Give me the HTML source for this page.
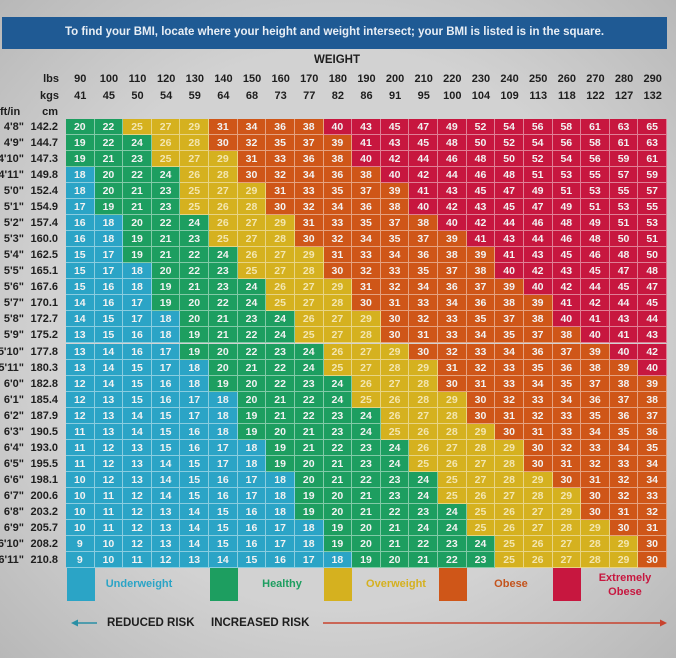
<!DOCTYPE html>
<html><head><meta charset="utf-8"><style>
body{margin:0;width:676px;height:658px;overflow:hidden;background:#c8c8c8;font-family:"Liberation Sans",sans-serif;position:relative}
.bg{position:absolute;left:0;top:0;width:676px;height:658px;background:radial-gradient(ellipse at center,#d2d2d2 60%,#b8b8b8 100%)}
.t{position:absolute;font-weight:bold;color:#1e1e1e;font-size:11px;line-height:14px;white-space:nowrap}
.cell{position:absolute;font-size:10.5px;font-weight:bold;text-align:center;color:#f2f2f2;box-sizing:border-box;border-right:1px solid rgba(255,255,255,.45);border-bottom:1px solid rgba(255,255,255,.45)}
.sw{position:absolute;top:568px;width:28px;height:33px}
.lg{position:absolute;font-size:11px;font-weight:bold;text-align:center;line-height:14px}
</style></head><body>
<div class="bg"></div>
<div style="position:absolute;left:2px;top:17px;width:665px;height:32px;background:#1f5a94;color:#e8eef5;font-size:11.5px;font-weight:bold;text-align:center;line-height:31px">To find your BMI, locate where your height and weight intersect; your BMI is listed is in the square.</div>
<div class="t" style="left:314px;top:53px;font-size:11.5px">WEIGHT</div>
<div class="t" style="left:30px;top:72px;width:29px;text-align:right">lbs</div>
<div class="t" style="left:30px;top:89px;width:29px;text-align:right">kgs</div>
<div class="t" style="left:0px;top:105px">ft/in</div>
<div class="t" style="left:30px;top:105px;width:28px;text-align:right">cm</div>
<div id="chart"></div>
<div id="legend"></div>
<svg style="position:absolute;left:0;top:610px" width="676" height="30">
<line x1="74" y1="13" x2="97" y2="13" stroke="#2a8fa5" stroke-width="1.5"/><polygon points="71,13 78,9.5 78,16.5" fill="#2a8fa5"/>
<line x1="323" y1="13" x2="662" y2="13" stroke="#c8432e" stroke-width="1.5"/><polygon points="667,13 660,9.5 660,16.5" fill="#c8432e"/>
</svg>
<div class="t" style="left:107px;top:616px;font-size:11.5px">REDUCED RISK</div>
<div class="t" style="left:211px;top:616px;font-size:11.5px">INCREASED RISK</div>
<script>
const lbs=[90,100,110,120,130,140,150,160,170,180,190,200,210,220,230,240,250,260,270,280,290];
const kgs=[41,45,50,54,59,64,68,73,77,82,86,91,95,100,104,109,113,118,122,127,132];
const ftin=["4'8\"","4'9\"","4'10\"","4'11\"","5'0\"","5'1\"","5'2\"","5'3\"","5'4\"","5'5\"","5'6\"","5'7\"","5'8\"","5'9\"","5'10\"","5'11\"","6'0\"","6'1\"","6'2\"","6'3\"","6'4\"","6'5\"","6'6\"","6'7\"","6'8\"","6'9\"","6'10\"","6'11\""];
const cm=["142.2","144.7","147.3","149.8","152.4","154.9","157.4","160.0","162.5","165.1","167.6","170.1","172.7","175.2","177.8","180.3","182.8","185.4","187.9","190.5","193.0","195.5","198.1","200.6","203.2","205.7","208.2","210.8"];
const bmi=[
[20,22,25,27,29,31,34,36,38,40,43,45,47,49,52,54,56,58,61,63,65],
[19,22,24,26,28,30,32,35,37,39,41,43,45,48,50,52,54,56,58,61,63],
[19,21,23,25,27,29,31,33,36,38,40,42,44,46,48,50,52,54,56,59,61],
[18,20,22,24,26,28,30,32,34,36,38,40,42,44,46,48,51,53,55,57,59],
[18,20,21,23,25,27,29,31,33,35,37,39,41,43,45,47,49,51,53,55,57],
[17,19,21,23,25,26,28,30,32,34,36,38,40,42,43,45,47,49,51,53,55],
[16,18,20,22,24,26,27,29,31,33,35,37,38,40,42,44,46,48,49,51,53],
[16,18,19,21,23,25,27,28,30,32,34,35,37,39,41,43,44,46,48,50,51],
[15,17,19,21,22,24,26,27,29,31,33,34,36,38,39,41,43,45,46,48,50],
[15,17,18,20,22,23,25,27,28,30,32,33,35,37,38,40,42,43,45,47,48],
[15,16,18,19,21,23,24,26,27,29,31,32,34,36,37,39,40,42,44,45,47],
[14,16,17,19,20,22,24,25,27,28,30,31,33,34,36,38,39,41,42,44,45],
[14,15,17,18,20,21,23,24,26,27,29,30,32,33,35,37,38,40,41,43,44],
[13,15,16,18,19,21,22,24,25,27,28,30,31,33,34,35,37,38,40,41,43],
[13,14,16,17,19,20,22,23,24,26,27,29,30,32,33,34,36,37,39,40,42],
[13,14,15,17,18,20,21,22,24,25,27,28,29,31,32,33,35,36,38,39,40],
[12,14,15,16,18,19,20,22,23,24,26,27,28,30,31,33,34,35,37,38,39],
[12,13,15,16,17,18,20,21,22,24,25,26,28,29,30,32,33,34,36,37,38],
[12,13,14,15,17,18,19,21,22,23,24,26,27,28,30,31,32,33,35,36,37],
[11,13,14,15,16,18,19,20,21,23,24,25,26,28,29,30,31,33,34,35,36],
[11,12,13,15,16,17,18,19,21,22,23,24,26,27,28,29,30,32,33,34,35],
[11,12,13,14,15,17,18,19,20,21,23,24,25,26,27,28,30,31,32,33,34],
[10,12,13,14,15,16,17,18,20,21,22,23,24,25,27,28,29,30,31,32,34],
[10,11,12,14,15,16,17,18,19,20,21,23,24,25,26,27,28,29,30,32,33],
[10,11,12,13,14,15,16,18,19,20,21,22,23,24,25,26,27,29,30,31,32],
[10,11,12,13,14,15,16,17,18,19,20,21,24,24,25,26,27,28,29,30,31],
[9,10,12,13,14,15,16,17,18,19,20,21,22,23,24,25,26,27,28,29,30],
[9,10,11,12,13,14,15,16,17,18,19,20,21,22,23,25,26,27,28,29,30]];
const X0=66,X1=667,Y0=119,Y1=568;
const cw=(X1-X0)/lbs.length, rh=(Y1-Y0)/ftin.length;
const xc=i=>X0+i*cw, yr=j=>Y0+j*rh;
function color(v){return v<=18?'#2ba4c6':v<=24?'#1d9e60':v<=29?'#d5b11f':v<=39?'#cf5618':'#c7173f';}
const chart=document.getElementById('chart');
lbs.forEach((v,i)=>{
 const a=document.createElement('div');a.className='t';
 
 
 a.style.cssText=`left:${xc(i)}px;top:72px;width:${cw}px;text-align:center`;a.textContent=v;chart.appendChild(a);
 const b=document.createElement('div');b.className='t';
 
 
 b.style.cssText=`left:${xc(i)}px;top:89px;width:${cw}px;text-align:center`;b.textContent=kgs[i];chart.appendChild(b);
});
ftin.forEach((h,j)=>{
 const a=document.createElement('div');a.className='t';
 
 
 a.style.cssText=`right:${676-24}px;top:${yr(j)+1}px;text-align:right`;a.textContent=h;chart.appendChild(a);
 const b=document.createElement('div');b.className='t';
 
 
 b.style.cssText=`left:28px;width:30px;top:${yr(j)+1}px;text-align:right`;b.textContent=cm[j];chart.appendChild(b);
 bmi[j].forEach((v,i)=>{
  const c=document.createElement('div');c.className='cell';
  
  
  const bg=color(v);
  c.style.cssText=`left:${xc(i)}px;top:${yr(j)}px;width:${cw}px;height:${rh}px;line-height:${rh}px;background:${bg};color:${bg=='#d5b11f'?'#f3e6b0':'#f2f2f2'}`;
  c.textContent=v;chart.appendChild(c);
 });
});
const legNames=['Underweight','Healthy','Overweight','Obese','Extremely<br>Obese'];
const legColors=['#2ba4c6','#1d9e60','#d5b11f','#cf5618','#c7173f'];
const legText=['#2ba4c6','#1d9e60','#d5b11f','#c4531c','#c7173f'];
const legX=[67,210,324,439,553];
const lg=document.getElementById('legend');
legNames.forEach((n,k)=>{
 const s=document.createElement('div');s.className='sw';
 
 
 s.style.left=legX[k]+'px';s.style.background=legColors[k];lg.appendChild(s);
 const t=document.createElement('div');t.className='lg';
 
 
 t.style.cssText=`left:${legX[k]+30}px;width:84px;top:${k==4?571:577}px;color:${legText[k]}`;t.innerHTML=n;lg.appendChild(t);
});
</script>
</body></html>
